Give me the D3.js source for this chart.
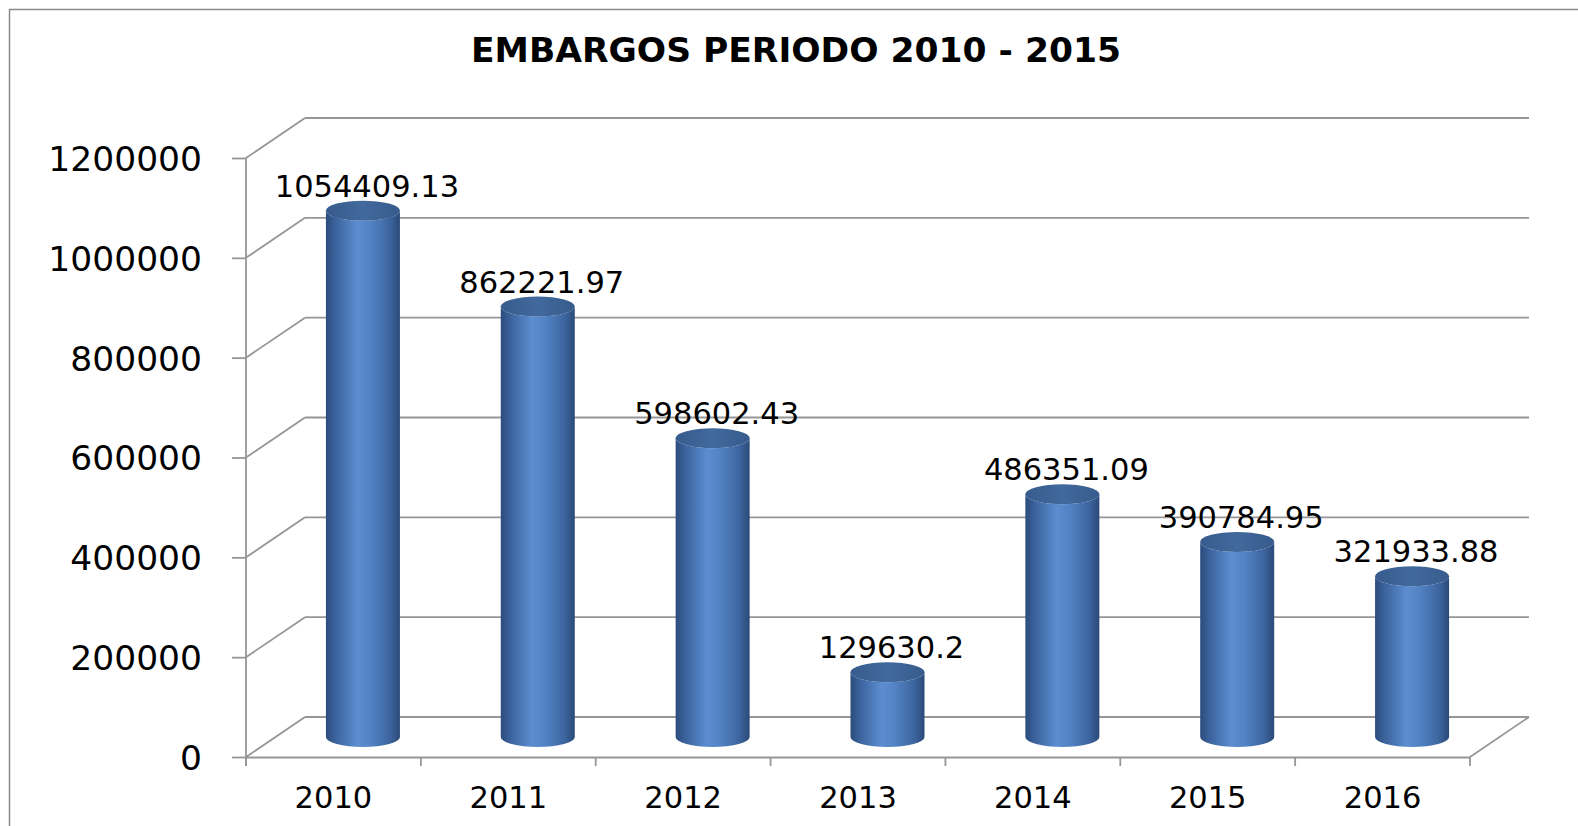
<!DOCTYPE html>
<html>
<head>
<meta charset="utf-8">
<script src="https://cdn.jsdelivr.net/npm/d3@7"></script>
<style>
  body { margin: 0; background: #fff; }
  svg { display: block; }
  text { font-family: "DejaVu Sans", sans-serif; fill: #000; }
</style>
</head>
<body>
<div id="chart"></div>
<script>
// data
var years = ["2010", "2011", "2012", "2013", "2014", "2015", "2016"];
var amounts = [1054409.13, 862221.97, 598602.43, 129630.2, 486351.09, 390784.95, 321933.88];
var amountLabels = ["1054409.13", "862221.97", "598602.43", "129630.2", "486351.09", "390784.95", "321933.88"];
var yTicks = [0, 200000, 400000, 600000, 800000, 1000000, 1200000];
var title = "EMBARGOS PERIODO 2010 - 2015";

var svgWidth = 1578, svgHeight = 826;

// front plane of the 3d box and the depth offset
var plot = { left: 246, right: 1470, top: 158, bottom: 757 };
var depth = { dx: 59, dy: -40 };

var svg = d3.select("#chart").append("svg")
    .attr("width", svgWidth)
    .attr("height", svgHeight);

// outer frame (runs off the right and bottom edges)
svg.append("rect")
    .attr("x", 9.5).attr("y", 9.5)
    .attr("width", 1700).attr("height", 1000)
    .attr("fill", "none")
    .attr("stroke", "#8a8a8a")
    .attr("stroke-width", 1.5);

svg.append("text")
    .attr("x", 796).attr("y", 62)
    .attr("text-anchor", "middle")
    .attr("font-weight", "bold")
    .attr("font-size", 34.5)
    .text(title);

var x = d3.scaleBand()
    .domain(years)
    .range([plot.left, plot.right]);

var y = d3.scaleLinear()
    .domain([0, 1200000])
    .range([plot.bottom, plot.top]);

var grid = svg.append("g")
    .attr("stroke", "#969696")
    .attr("stroke-width", 1.8)
    .attr("fill", "none");

// back wall gridlines
grid.selectAll(".back").data(yTicks).enter().append("line")
    .attr("x1", plot.left + depth.dx)
    .attr("x2", plot.right + depth.dx)
    .attr("y1", d => y(d) + depth.dy)
    .attr("y2", d => y(d) + depth.dy);

// side wall gridlines
grid.selectAll(".side").data(yTicks).enter().append("line")
    .attr("x1", plot.left)
    .attr("x2", plot.left + depth.dx)
    .attr("y1", d => y(d))
    .attr("y2", d => y(d) + depth.dy);

// floor right edge
grid.append("line")
    .attr("x1", plot.right).attr("y1", y(0))
    .attr("x2", plot.right + depth.dx).attr("y2", y(0) + depth.dy);

// y axis
var yAxis = d3.axisLeft(y)
    .tickValues(yTicks)
    .tickFormat(d3.format("d"))
    .tickSize(14)
    .tickPadding(30);

var yg = svg.append("g")
    .attr("transform", `translate(${plot.left},0)`)
    .call(yAxis);
yg.select(".domain").attr("stroke", "#969696").attr("stroke-width", 1.8)
    .attr("d", `M0,${plot.top}V${plot.bottom + 9}`);
yg.selectAll(".tick line").attr("stroke", "#969696").attr("stroke-width", 1.8);
yg.selectAll(".tick text")
    .attr("font-size", 34.5)
    .attr("dy", "0.36em")
    .style("font-family", "DejaVu Sans")
    .attr("fill", "#000");

// x axis
var xAxis = d3.axisBottom(x)
    .tickSize(0)
    .tickPadding(30);

var xg = svg.append("g")
    .attr("transform", `translate(0,${plot.bottom})`)
    .call(xAxis);
xg.select(".domain").attr("stroke", "#969696").attr("stroke-width", 1.8);
xg.selectAll(".tick text")
    .attr("font-size", 30.5)
    .attr("dy", "0.7em")
    .style("font-family", "DejaVu Sans")
    .attr("fill", "#000");

// category separators on x axis
var seps = d3.range(years.length + 1).map(i => plot.left + i * x.step());
xg.selectAll(".sep").data(seps).enter().append("line")
    .attr("x1", d => d).attr("x2", d => d)
    .attr("y1", 0).attr("y2", 9)
    .attr("stroke", "#969696").attr("stroke-width", 1.8);

// cylinders
var defs = svg.append("defs");
var body = defs.append("linearGradient").attr("id", "body")
    .attr("x1", 0).attr("x2", 1).attr("y1", 0).attr("y2", 0);
[[0, "#2b4c7c"], [0.12, "#3a619a"], [0.42, "#5b8dd0"], [0.6, "#5283c4"], [0.86, "#3d659f"], [1, "#2a4a78"]]
    .forEach(s => body.append("stop").attr("offset", s[0]).attr("stop-color", s[1]));
var cap = defs.append("linearGradient").attr("id", "cap")
    .attr("x1", 0).attr("x2", 1).attr("y1", 0).attr("y2", 0);
[[0, "#375b8c"], [0.5, "#42699d"], [1, "#375b8c"]]
    .forEach(s => cap.append("stop").attr("offset", s[0]).attr("stop-color", s[1]));

var r = 37, ry = 10;
var mid = { dx: depth.dx / 2, dy: depth.dy / 2 };

var bars = svg.append("g").selectAll("g")
    .data(years.map((yr, i) => ({ yr: yr, v: amounts[i], label: amountLabels[i] })))
    .enter().append("g");

bars.append("path")
    .attr("fill", "url(#body)")
    .attr("d", d => {
        var cx = x(d.yr) + x.bandwidth() / 2 + mid.dx;
        var yb = y(0) + mid.dy, yt = y(d.v) + mid.dy;
        return `M${cx - r},${yt}L${cx - r},${yb}A${r},${ry} 0 0 0 ${cx + r},${yb}` +
            `L${cx + r},${yt}A${r},${ry} 0 0 1 ${cx - r},${yt}Z`;
    });

bars.append("ellipse")
    .attr("fill", "url(#cap)")
    .attr("cx", d => x(d.yr) + x.bandwidth() / 2 + mid.dx)
    .attr("cy", d => y(d.v) + mid.dy)
    .attr("rx", r)
    .attr("ry", ry);

bars.append("text")
    .attr("x", d => x(d.yr) + x.bandwidth() / 2 + mid.dx + 4)
    .attr("y", d => y(d.v) + mid.dy - 14)
    .attr("text-anchor", "middle")
    .attr("font-size", 30.5)
    .text(d => d.label);
</script>
</body>
</html>
